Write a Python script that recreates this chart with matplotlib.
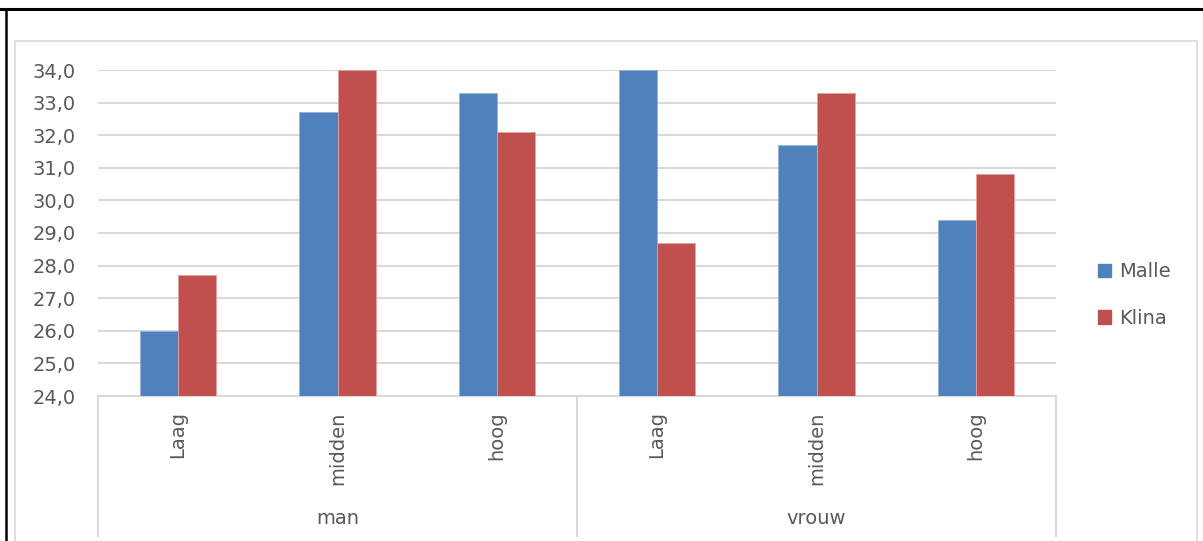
import matplotlib
matplotlib.use('Agg')
import matplotlib.pyplot as plt
import matplotlib.transforms as mtransforms
from matplotlib.patches import Rectangle, Patch
from matplotlib.lines import Line2D
import numpy as np

plt.rc('font', family='DejaVu Sans')

categories = ['Laag', 'midden', 'hoog', 'Laag', 'midden', 'hoog']
groups = ['man', 'vrouw']
malle = [26.0, 32.7, 33.3, 34.0, 31.7, 29.4]
klina = [27.7, 34.0, 32.1, 28.7, 33.3, 30.8]
yticks = np.arange(24, 35, 1)

W, H = 1203, 541
grey_txt = '#595959'
grid_col = '#d9d9d9'
fs = 14


def px(x0, y0, x1, y1):
    # pixel box (top-left origin) -> figure fraction [left, bottom, width, height]
    return [x0 / W, 1 - y1 / H, (x1 - x0) / W, (y1 - y0) / H]


fig = plt.figure(figsize=(W / 100, H / 100), dpi=100)

# frame of the page / chart area
fig.add_artist(Line2D([0, 1], [1 - 9 / H, 1 - 9 / H], color='black', lw=2.2,
                      transform=fig.transFigure))
fig.add_artist(Line2D([6 / W, 6 / W], [0, 1 - 9 / H], color='black', lw=1.8,
                      transform=fig.transFigure))
fig.add_artist(Rectangle((15 / W, -0.05), (1197 - 15) / W, 1 - 41 / H + 0.05,
                         transform=fig.transFigure, fill=False,
                         edgecolor=grid_col, lw=1.2))

ax = fig.add_axes(px(98, 70, 1056, 396))
x = np.arange(len(categories))
bw = 0.238
ax.bar(x - bw / 2, np.array(malle) - 24, bw, bottom=24, color='#4F81BD',
       edgecolor='#95b3d7', lw=0.6, label='Malle', zorder=3)
ax.bar(x + bw / 2, np.array(klina) - 24, bw, bottom=24, color='#C0504D',
       edgecolor='#e6a09e', lw=0.6, label='Klina', zorder=3)

ax.set_xlim(-0.5, len(categories) - 0.5)
ax.set_ylim(24, 34)
ax.set_yticks(yticks)
ax.set_yticklabels(['{:.1f}'.format(v).replace('.', ',') for v in yticks],
                   fontsize=fs, color=grey_txt)
ax.tick_params(axis='y', length=0, pad=16)
ax.set_xticks(x)
ax.set_xticklabels(categories, rotation=90, fontsize=fs, color=grey_txt,
                   va='top')
ax.tick_params(axis='x', length=0, pad=11)
ax.grid(axis='y', color=grid_col, lw=1.5, zorder=0)
for s in ['top', 'right', 'left']:
    ax.spines[s].set_visible(False)
ax.spines['bottom'].set_color(grid_col)
ax.spines['bottom'].set_linewidth(1.5)

# group separators and group labels below the axis
trans = mtransforms.blended_transform_factory(ax.transData, ax.transAxes)
y_low = (396 - 536) / (396 - 70)
for xs in [-0.5, 2.5, 5.5]:
    ax.plot([xs, xs], [0, y_low], color=grid_col, lw=1.5, clip_on=False,
            transform=trans)
for i, g in enumerate(groups):
    ax.text(3 * i + 1, (396 - 519) / (396 - 70), g, transform=trans,
            ha='center', va='center', fontsize=fs, color=grey_txt)

handles = [Patch(color='#4F81BD'), Patch(color='#C0504D')]
fig.legend(handles, ['Malle', 'Klina'], loc='center left',
           bbox_to_anchor=(1080 / W, 1 - 295 / H), frameon=False,
           handlelength=0.7, handleheight=0.7, handletextpad=0.4,
           labelspacing=1.4, fontsize=fs, labelcolor=grey_txt)

fig.savefig('out.png', dpi=100)
